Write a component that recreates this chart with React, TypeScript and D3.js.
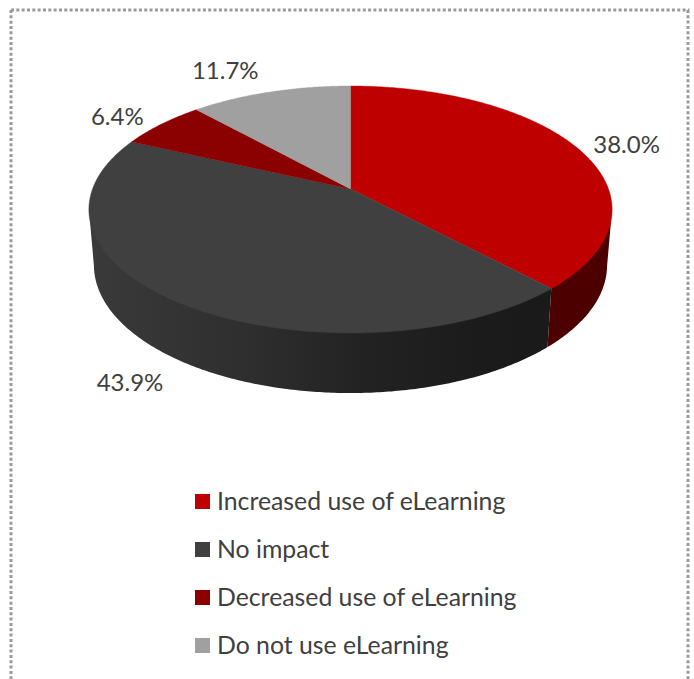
import React from "react";
import * as d3 from "d3";

const categories = [
  "Increased use of eLearning",
  "No impact",
  "Decreased use of eLearning",
  "Do not use eLearning",
];
const shares = [38.0, 43.9, 6.4, 11.7];
const topColors = ["#bf0000", "#404040", "#8b0000", "#a0a0a0"];

// Label offsets from the rim point at each slice's middle angle.
const labelOffsets: [number, number][] = [
  [50, 6],
  [-46, 89],
  [-44, 1],
  [-45, -13],
];

const WIDTH = 694;
const HEIGHT = 679;
const TAU = 2 * Math.PI;

// Projective tilt: a circle becomes an ellipse whose centre sits below the apex.
const tilt = -0.166;
const topDisc = { cx: 350.5, cy: 189, rx: 258, ry: 120.1 };
const bottomDisc = { cx: 350.5, cy: 244, rx: 253, ry: 124.3 };
const FRONT_RIGHT = (100 / 360) * TAU;
const FRONT_LEFT = (260 / 360) * TAU;

type Disc = typeof topDisc;

function project(disc: Disc, angle: number): [number, number] {
  const u = Math.sin(angle);
  const v = -Math.cos(angle);
  const w = 1 + tilt * v;
  return [disc.cx + (disc.rx * u) / w, disc.cy + (disc.ry * v) / w];
}

function arcPoints(disc: Disc, a0: number, a1: number): [number, number][] {
  const steps = Math.max(2, Math.ceil(Math.abs(a1 - a0) / 0.01));
  return d3.range(steps + 1).map((i) => project(disc, a0 + ((a1 - a0) * i) / steps));
}

const outline = d3.line();

function App() {
  const arcs = d3.pie<number>().sort(null)(shares);

  const sectorPath = (a0: number, a1: number) =>
    outline([[topDisc.cx, topDisc.cy], ...arcPoints(topDisc, a0, a1)]) + "Z";

  // The wall's upper edge is lifted slightly so it tucks under the top face without a seam.
  const wallPath = (a0: number, a1: number) =>
    outline([
      ...arcPoints({ ...topDisc, cy: topDisc.cy - 2 }, a0, a1),
      ...arcPoints(bottomDisc, a1, a0),
    ]) + "Z";

  const redEnd = arcs[0].endAngle;

  return (
    <svg
      width={WIDTH}
      height={HEIGHT}
      viewBox={`0 0 ${WIDTH} ${HEIGHT}`}
      style={{ position: "absolute", left: 0, top: 0, background: "#fff" }}
      fontFamily="Lato, 'Open Sans', sans-serif"
    >
      <defs>
        <linearGradient id="wallDark" gradientUnits="userSpaceOnUse" x1={90} x2={550} y1={0} y2={0}>
          <stop offset="0" stopColor="#3a3a3a" />
          <stop offset="0.35" stopColor="#2e2e2e" />
          <stop offset="0.6" stopColor="#222222" />
          <stop offset="0.85" stopColor="#1b1b1b" />
          <stop offset="1" stopColor="#1a1a1a" />
        </linearGradient>
      </defs>

      <path
        d="M11 10H688V679M11 10V679"
        fill="none"
        stroke="#9a9a9a"
        strokeWidth={3}
        strokeDasharray="3 2.33"
      />

      <path d={wallPath(FRONT_RIGHT, redEnd)} fill="#4c0000" />
      <path d={wallPath(redEnd, FRONT_LEFT)} fill="url(#wallDark)" />

      {arcs.map((a, i) => (
        <path
          key={categories[i]}
          d={sectorPath(a.startAngle, a.endAngle)}
          fill={topColors[i]}
          stroke={topColors[i]}
          strokeWidth={0.4}
        />
      ))}

      {arcs.map((a, i) => {
        const [x, y] = project(topDisc, (a.startAngle + a.endAngle) / 2);
        return (
          <text
            key={categories[i]}
            x={x + labelOffsets[i][0]}
            y={y + labelOffsets[i][1]}
            textAnchor="middle"
            fontSize={24}
            fill="#404040"
          >
            {d3.format(".1f")(shares[i])}%
          </text>
        );
      })}

      {categories.map((name, i) => (
        <g key={name} transform={`translate(195,${494 + i * 48})`}>
          <rect width={15} height={15} fill={topColors[i]} />
          <text x={22} y={16} fontSize={24.8} fill="#404040">
            {name}
          </text>
        </g>
      ))}
    </svg>
  );
}

export default App;
